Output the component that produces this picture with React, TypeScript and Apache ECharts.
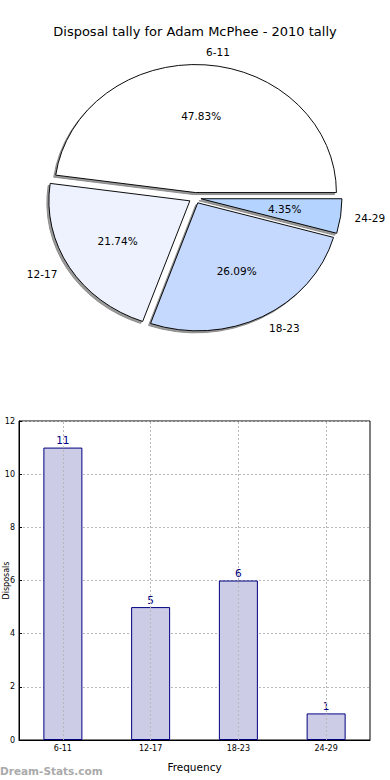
import React, { useEffect, useRef } from 'react';
import * as echarts from 'echarts';

const titleText = 'Disposal tally for Adam McPhee - 2010 tally';
const categories = ['6-11', '12-17', '18-23', '24-29'];
const tallies = [11, 5, 6, 1];
const pieColors = ['#ffffff', '#edf2fe', '#c5d8fe', '#b4d3ff'];
const yAxisName = 'Disposals';
const xAxisName = 'Frequency';
const watermark = 'Dream-Stats.com';

export default function App() {
  const ref = useRef<HTMLDivElement>(null);
  useEffect(() => {
    const chart = echarts.init(ref.current!, null, { renderer: 'svg' });
    const total = tallies.reduce((a, b) => a + b, 0);
    const starts: number[] = [];
    let acc = 0;
    tallies.forEach((v) => {
      starts.push(acc);
      acc += v;
    });
    const cx = 195, cy = 198, rx = 141, ry = 128, ky = ry / rx, explode = 6;
    const font = 'DejaVu Sans';

    const renderPie = (params: any, api: any) => {
      const i = params.dataIndex;
      const v = api.value(0);
      const t1 = (starts[i] / total) * 360;
      const t2 = ((starts[i] + v) / total) * 360;
      const tm = (((t1 + t2) / 2) * Math.PI) / 180;
      const ox = cx + explode * Math.cos(tm);
      const oy = cy - explode * ky * Math.sin(tm);
      const a1 = (-t2 * Math.PI) / 180;
      const a2 = (-t1 * Math.PI) / 180;
      const sector = (fill: string, stroke: string, z2: number) => ({
        type: 'sector',
        z2,
        shape: { cx: 0, cy: 0, r: rx, r0: 0, startAngle: a1, endAngle: a2, clockwise: true },
        style: { fill, stroke, lineWidth: 1, strokeNoScale: true },
      });
      const c = Math.cos(tm), s = Math.sin(tm);
      const lx = ox + 1.1 * rx * c;
      const ly = oy - 1.1 * ry * s;
      const px = ox + 0.6 * rx * c;
      const py = oy - 0.6 * ry * s;
      const al = c > 0 ? 'left' : 'right';
      return {
        type: 'group',
        children: [
          {
            type: 'group', x: ox - 2, y: oy + 2, scaleY: ky,
            children: [sector('#9a9a9a', '#8a8a8a', 1)],
          },
          {
            type: 'group', x: ox, y: oy, scaleY: ky,
            children: [sector(pieColors[i], '#000000', 10)],
          },
          {
            type: 'text', z2: 20, x: lx, y: ly,
            style: {
              text: categories[i], fill: '#000', font: `10.5px "${font}"`,
              textAlign: al, align: al, textVerticalAlign: 'middle', verticalAlign: 'middle',
            },
          },
          {
            type: 'text', z2: 20, x: px, y: py,
            style: {
              text: ((v / total) * 100).toFixed(2) + '%', fill: '#000', font: `10.5px "${font}"`,
              textAlign: 'center', align: 'center', textVerticalAlign: 'middle', verticalAlign: 'middle',
            },
          },
        ],
      };
    };

    chart.setOption({
      animation: false,
      backgroundColor: '#ffffff',
      textStyle: { fontFamily: font },
      title: {
        text: titleText,
        left: 'center',
        top: 20,
        textStyle: { fontSize: 13, fontWeight: 'normal', color: '#000', fontFamily: font },
      },
      grid: {
        left: 19, top: 421, width: 351, height: 319,
        show: true, borderColor: '#000', borderWidth: 1,
        outerBoundsMode: 'none',
        containLabel: false,
      },
      xAxis: {
        type: 'category',
        data: categories,
        name: xAxisName,
        nameLocation: 'middle',
        nameGap: 21,
        nameMoveOverlap: false,
        nameTextStyle: { fontSize: 10.5, color: '#000', fontFamily: font },
        axisLine: { lineStyle: { color: '#000', width: 1 } },
        axisTick: { show: true, inside: true, alignWithLabel: true, length: 3, lineStyle: { color: '#000' } },
        axisLabel: { fontSize: 8, color: '#000', margin: 4, fontFamily: font },
        splitLine: { show: false },
      },
      yAxis: {
        type: 'value',
        min: 0, max: 12, interval: 2,
        name: yAxisName,
        nameLocation: 'middle',
        nameRotate: 90,
        nameGap: 9,
        nameMoveOverlap: false,
        nameTextStyle: { fontSize: 8, color: '#000', fontFamily: font },
        axisLine: { show: true, lineStyle: { color: '#000', width: 1 } },
        axisTick: { show: true, inside: true, length: 3, lineStyle: { color: '#000' } },
        axisLabel: { fontSize: 8, color: '#000', margin: 4, fontFamily: font },
        splitLine: { show: true, lineStyle: { color: '#b8b8b8', type: [2, 2], width: 1 } },
      },
      series: [
        {
          type: 'custom',
          coordinateSystem: 'none',
          renderItem: renderPie,
          data: tallies.map((v) => [v]),
          silent: true,
          z: 5,
        },
        {
          type: 'bar',
          data: tallies,
          barWidth: 39,
          itemStyle: { color: '#ccccE6', borderColor: '#000080', borderWidth: 1 },
          label: {
            show: true, position: 'top', distance: 2,
            color: '#000080', fontSize: 10.5, fontFamily: font,
          },
          markLine: {
            silent: true,
            symbol: ['none', 'none'],
            label: { show: false },
            lineStyle: { color: '#b8b8b8', type: [2, 2], width: 1 },
            data: categories.map((c) => ({ xAxis: c })),
          },
        },
      ],
      graphic: [
        {
          type: 'text', left: 0, top: 765,
          style: { text: watermark, fill: '#aaaaaa', font: `bold 10.5px "${font}"` },
        },
      ],
    });
    return () => chart.dispose();
  }, []);
  return <div ref={ref} style={{ position: 'absolute', left: 0, top: 0, width: 390, height: 780 }} />;
}
